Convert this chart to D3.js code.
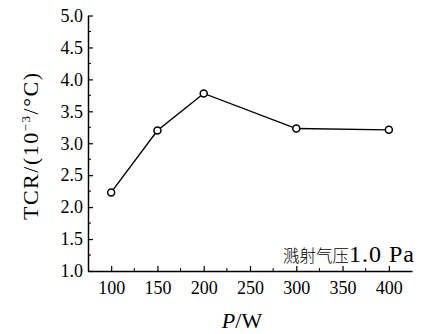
<!DOCTYPE html>
<html>
<head>
<meta charset="utf-8">
<script src="https://cdn.jsdelivr.net/npm/d3@7"></script>
<style>
  body { margin: 0; background: #fff; }
</style>
</head>
<body>
<script>
// data
let power = [100, 150, 200, 300, 400]
let tcr = [2.23, 3.20, 3.78, 3.23, 3.21]
let xTicks = [100, 150, 200, 250, 300, 350, 400]
let yTicks = [1.0, 1.5, 2.0, 2.5, 3.0, 3.5, 4.0, 4.5, 5.0]
let note = ['溅射气压', '1.0 Pa']

const serif = '"Liberation Serif", "Times New Roman", "DejaVu Serif", serif'

function main(){
    let width = 428, height = 334
    let svg = d3.select('body').append('svg')
        .attr('width', width)
        .attr('height', height)
        .attr('font-family', serif)

    let x = d3.scaleLinear().domain([75, 425]).range([88, 412])
    let y = d3.scaleLinear().domain([1, 5]).range([271, 15.5])

    // minor ticks
    let xMinor = d3.range(125, 425, 50)
    let yMinor = d3.range(1.25, 5, 0.5)

    let xAxis = svg.append('g')
        .attr('transform', `translate(0,${y(1)})`)
        .call(d3.axisBottom(x).tickValues(xTicks).tickSizeInner(-5).tickSizeOuter(0).tickPadding(10)
            .tickFormat(d3.format('d')))
    let yAxis = svg.append('g')
        .attr('transform', `translate(${x(75)},0)`)
        .call(d3.axisLeft(y).tickValues(yTicks).tickSizeInner(-5).tickSizeOuter(0).tickPadding(5)
            .tickFormat(d3.format('.1f')))

    xAxis.selectAll('.minor').data(xMinor).enter().append('line')
        .attr('class', 'minor')
        .attr('x1', d => x(d)).attr('x2', d => x(d))
        .attr('y1', 0).attr('y2', -3)
        .attr('stroke', '#000')
    yAxis.selectAll('.minor').data(yMinor).enter().append('line')
        .attr('class', 'minor')
        .attr('y1', d => y(d)).attr('y2', d => y(d))
        .attr('x1', 0).attr('x2', 3)
        .attr('stroke', '#000')

    svg.selectAll('.domain').attr('stroke', '#000').attr('stroke-width', 1.5)
    svg.selectAll('.tick line').attr('stroke', '#000').attr('stroke-width', 1.2)
    xAxis.attr('font-family', serif).attr('font-size', 18)
    yAxis.attr('font-family', serif).attr('font-size', 18)
    svg.selectAll('.tick text').attr('fill', '#000')

    // series
    let pts = power.map((p, i) => [p, tcr[i]])
    svg.append('path')
        .datum(pts)
        .attr('fill', 'none')
        .attr('stroke', '#000')
        .attr('stroke-width', 1.4)
        .attr('d', d3.line().x(d => x(d[0])).y(d => y(d[1])))
    svg.selectAll('circle')
        .data(pts)
        .enter()
        .append('circle')
        .attr('cx', d => x(d[0]))
        .attr('cy', d => y(d[1]))
        .attr('r', 3.5)
        .attr('fill', '#fff')
        .attr('stroke', '#000')
        .attr('stroke-width', 1.5)

    // annotation
    let nt = svg.append('text')
        .attr('x', 415)
        .attr('y', 262)
        .attr('text-anchor', 'end')
    nt.append('tspan')
        .attr('font-family', '"Noto Sans CJK SC", sans-serif')
        .attr('font-weight', 300)
        .attr('font-size', 16.5)
        .text(note[0])
    nt.append('tspan')
        .attr('font-family', serif)
        .attr('font-size', 24)
        .attr('letter-spacing', 1)
        .text(note[1])

    // axis titles
    let xt = svg.append('text')
        .attr('x', 242)
        .attr('y', 328)
        .attr('text-anchor', 'middle')
        .attr('font-size', 22)
    xt.append('tspan').attr('font-style', 'italic').text('P')
    xt.append('tspan').text('/W')

    let yt = svg.append('text')
        .attr('transform', 'translate(38,220) rotate(-90)')
        .attr('font-size', 22)
        .attr('textLength', 147)
        .attr('lengthAdjust', 'spacing')
    yt.append('tspan').text('TCR/(10')
    yt.append('tspan').attr('font-size', 13).attr('dy', -8).text('−3')
    yt.append('tspan').attr('dy', 8).text('/°C)')
}

main()
</script>
</body>
</html>
